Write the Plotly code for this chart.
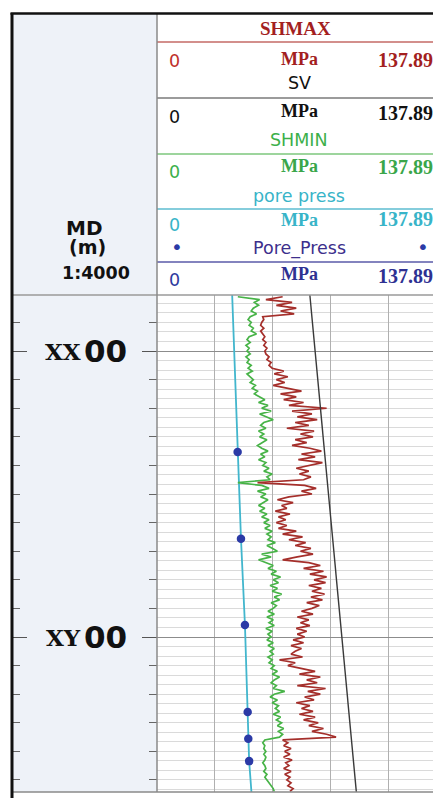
import numpy as np
import plotly.graph_objects as go

# ---------------- DATA ----------------
TRACK_MIN = 0.0
TRACK_MAX = 137.895          # MPa, scale of every curve in the track
DEPTH_TOP = 980.4
DEPTH_BOTTOM = 1154.2

# depth annotations of the MD column
DEPTH_LABEL_VALUES = [1000, 1100]
DEPTH_LABEL_PREFIX = ["XX", "XY"]
DEPTH_LABEL_SUFFIX = ["00", "00"]

# log curves sampled every 1 m from 981 m
LOG_DEPTH_START = 981.0
LOG_DEPTH_STEP = 1.0

SHMIN_VALUES = [
    38.6, 49.0, 46.5, 48.5, 46.0, 45.0, 47.5, 44.5, 43.5, 45.0,
    44.0, 46.0, 45.0, 47.5, 44.0, 43.0, 44.5, 42.5, 44.0, 43.0,
    44.5, 42.5, 44.0, 43.0, 45.0, 43.5, 45.5, 43.0, 44.5, 46.0,
    44.5, 47.0, 45.5, 48.0, 46.5, 49.0, 51.5, 48.5, 53.0, 50.0,
    54.5, 49.0, 52.5, 55.5, 51.0, 49.5, 52.0, 48.5, 51.0, 49.0,
    52.5, 50.5, 48.0, 50.0, 53.0, 49.5, 51.5, 48.5, 52.0, 50.5,
    53.5, 51.0, 55.0, 52.5, 54.0, 38.6, 50.0, 53.5, 48.0, 52.0,
    49.5, 53.0, 50.5, 48.5, 51.5, 49.0, 52.5, 50.0, 53.5, 51.0,
    54.0, 51.5, 55.0, 52.5, 54.5, 53.0, 56.5, 52.5, 55.0, 57.5,
    50.0, 54.5, 48.5, 52.0, 55.5, 53.0, 57.0, 54.5, 59.0, 55.5,
    58.0, 54.0, 57.5, 55.0, 59.5, 56.0, 58.5, 54.5, 57.0, 55.5,
    53.0, 56.0, 52.5, 55.5, 53.5, 56.0, 52.0, 55.0, 53.0, 54.5,
    52.5, 55.5, 53.0, 56.0, 54.0, 55.5, 53.0, 55.0, 53.5, 56.0,
    54.5, 57.5, 55.0, 58.5, 56.0, 54.5, 57.0, 55.5, 61.0, 56.0,
    54.0, 57.5, 55.0, 58.0, 56.5, 58.5, 55.5, 59.0, 57.0, 59.5,
    57.5, 60.5, 58.0, 60.0, 58.5, 51.5, 50.5, 51.5, 51.0, 52.0,
    51.0, 52.0, 51.5, 50.5, 51.5, 52.0, 51.0, 52.5, 51.5, 52.5,
    53.5, 54.5, 55.5, 56.0,
]

SHMAX_VALUES = [
    60.0, 52.0, 64.5, 57.0, 66.5, 59.0, 65.5, 50.5, 51.0, 50.0,
    49.5, 51.0, 49.5, 50.5, 51.5, 50.5, 52.0, 51.0, 52.5, 51.5,
    52.0, 53.5, 52.5, 54.5, 53.5, 55.0, 60.5, 56.0, 62.5, 57.0,
    61.0, 55.5, 63.0, 69.0, 59.0, 66.5, 60.5, 70.0, 63.0, 81.0,
    64.5, 74.0, 67.0, 76.5, 66.0, 72.5, 62.0, 75.0, 68.5, 74.5,
    66.0, 71.5, 64.5, 73.0, 78.5, 69.0, 75.5, 67.5, 79.0, 72.0,
    66.5, 72.5, 68.0, 73.5, 70.0, 48.0, 70.5, 76.0, 69.0, 74.0,
    63.0, 57.5, 65.0, 59.5, 62.0, 56.5, 63.5, 58.0, 61.5, 57.0,
    62.0, 58.0, 66.5, 60.0, 69.5, 63.0, 71.0, 66.0, 73.5, 68.5,
    74.5, 67.0, 60.0, 72.5, 78.0, 70.0, 79.5, 73.0, 81.0, 75.0,
    80.5, 72.5, 78.5, 74.0, 80.0, 73.5, 79.0, 71.5, 77.5, 74.0,
    69.0, 74.5, 67.0, 72.5, 68.5, 73.0, 66.5, 71.5, 67.0, 70.5,
    65.0, 70.0, 64.0, 69.0, 66.0, 64.0, 69.5, 58.5, 66.0, 62.5,
    69.5, 75.5, 68.0, 78.0, 71.5, 76.5, 67.0, 80.5, 72.0, 78.0,
    70.5, 75.0, 66.5, 73.0, 69.0, 74.5, 68.0, 75.5, 70.0, 77.0,
    72.5, 79.5, 74.0, 81.0, 85.5, 60.0, 62.5, 60.5, 64.0, 61.0,
    63.5, 60.5, 64.5, 61.5, 63.0, 60.5, 64.0, 61.0, 63.5, 62.0,
    64.0, 62.5, 65.0, 63.5,
]

SV_DEPTH = [980.4, 1154.2]
SV_VALUES = [73.0, 95.2]

PORE_DEPTH = [980.4, 1035.3, 1065.6, 1095.8, 1126.2, 1143.4, 1154.2]
PORE_VALUES = [35.9, 38.5, 40.1, 42.0, 43.3, 44.0, 45.1]

PP_POINT_DEPTH = [1035.3, 1065.6, 1095.8, 1126.2, 1135.6, 1143.4]
PP_POINT_VALUES = [38.5, 40.1, 42.0, 43.3, 43.6, 44.0]

log_depth = np.arange(LOG_DEPTH_START, LOG_DEPTH_START + LOG_DEPTH_STEP * len(SHMIN_VALUES), LOG_DEPTH_STEP)

# ---------------- STYLE / LAYOUT ----------------
W, H = 433, 798
def px(x):
    return x / W
def py(y):
    return 1 - y / H

TRACK_LEFT, TRACK_RIGHT_FULL = 157, 445.75
TRACK_TOP, TRACK_BOTTOM = 295, 792
COL_LEFT = 12
FRAME_TOP = 13

x_visible_max = TRACK_MAX * (W - TRACK_LEFT) / (TRACK_RIGHT_FULL - TRACK_LEFT)

RED = "#a52f2b"
GREEN = "#47b347"
CYAN = "#42b6cd"
NAVY = "#2b3aa6"

fig = go.Figure()

fig.add_trace(go.Scatter(x=PORE_VALUES, y=PORE_DEPTH, mode="lines",
                         line=dict(color=CYAN, width=1.8), xaxis="x", yaxis="y"))
fig.add_trace(go.Scatter(x=SHMIN_VALUES, y=log_depth, mode="lines",
                         line=dict(color=GREEN, width=1.7), xaxis="x", yaxis="y"))
fig.add_trace(go.Scatter(x=SHMAX_VALUES, y=log_depth, mode="lines",
                         line=dict(color=RED, width=1.7), xaxis="x", yaxis="y"))
fig.add_trace(go.Scatter(x=SV_VALUES, y=SV_DEPTH, mode="lines",
                         line=dict(color="#3a3a3a", width=1.4), xaxis="x", yaxis="y"))
fig.add_trace(go.Scatter(x=PP_POINT_VALUES, y=PP_POINT_DEPTH, mode="markers",
                         marker=dict(color=NAVY, size=8.5), xaxis="x", yaxis="y"))
# invisible carriers so both edges of the MD column get their tick marks
for ya in ("y2", "y3"):
    fig.add_trace(go.Scatter(x=[0.5], y=[DEPTH_LABEL_VALUES[0]], mode="markers",
                             marker=dict(opacity=0), hoverinfo="skip",
                             xaxis="x2", yaxis=ya))

dom_y = [py(TRACK_BOTTOM), py(TRACK_TOP)]
yrange = [DEPTH_BOTTOM, DEPTH_TOP]

tick_style = dict(ticks="inside", ticklen=15, tickcolor="#555", tickwidth=1,
                  tick0=1000, dtick=100, showticklabels=False, showgrid=False,
                  zeroline=False, showline=False, autorange=False,
                  minor=dict(ticks="inside", ticklen=8, dtick=10, tickcolor="#666", tickwidth=1))

fig.update_layout(
    width=W, height=H, margin=dict(l=0, r=0, t=0, b=0),
    paper_bgcolor="white", plot_bgcolor="rgba(0,0,0,0)",
    showlegend=False,
    xaxis=dict(domain=[px(TRACK_LEFT), 1], range=[TRACK_MIN, x_visible_max],
               tick0=0, dtick=TRACK_MAX / 5, showgrid=True, gridcolor="#b0b0b0",
               gridwidth=1, showticklabels=False, zeroline=False, showline=False,
               ticks="", anchor="y"),
    yaxis=dict(domain=dom_y, range=yrange, tick0=1000, dtick=100, showgrid=True,
               gridcolor="#8c8c8c", gridwidth=1,
               minor=dict(dtick=10 / 3, showgrid=True, gridcolor="#dadada", gridwidth=1),
               showticklabels=False, ticks="", zeroline=False, anchor="x"),
    xaxis2=dict(domain=[px(COL_LEFT), px(TRACK_LEFT)], range=[0, 1], visible=False, anchor="y2"),
    yaxis2=dict(domain=dom_y, range=yrange, anchor="x2", side="left", **tick_style),
    yaxis3=dict(domain=dom_y, range=yrange, anchor="x2", side="right",
                overlaying="y2", **tick_style),
)

shapes = []
# depth column background
shapes.append(dict(type="rect", xref="paper", yref="paper", layer="below",
                   x0=px(COL_LEFT), x1=px(TRACK_LEFT), y0=py(TRACK_BOTTOM), y1=py(FRAME_TOP),
                   fillcolor="#eef2f8", line=dict(width=0)))
def hline(y, x0, x1, color, width=1.5):
    shapes.append(dict(type="line", xref="paper", yref="paper", x0=px(x0), x1=px(x1),
                       y0=py(y), y1=py(y), line=dict(color=color, width=width)))
def vline(x, y0, y1, color, width=1.5):
    shapes.append(dict(type="line", xref="paper", yref="paper", x0=px(x), x1=px(x),
                       y0=py(y0), y1=py(y1), line=dict(color=color, width=width)))

# header row separators
hline(42, TRACK_LEFT, W, "#c46a66")
hline(98, TRACK_LEFT, W, "#7a7a7a")
hline(154, TRACK_LEFT, W, "#7cc77c")
hline(209, TRACK_LEFT, W, "#5cbdd0")
hline(262, TRACK_LEFT, W, "#5a5aa8")
hline(TRACK_TOP, COL_LEFT, W, "#9a9a9a")
hline(TRACK_BOTTOM, COL_LEFT, W, "#8a8a8a")
vline(TRACK_LEFT, FRAME_TOP, TRACK_BOTTOM, "#8a8a8a")
# frame
hline(FRAME_TOP + 0.5, COL_LEFT - 1.5, W, "#111", 2.5)
vline(COL_LEFT, FRAME_TOP, H, "#111", 3)
fig.update_layout(shapes=shapes)

ann = []
def text(x, y, s, size, color, family, xanchor="center", bold=False):
    ann.append(dict(x=px(x), y=py(y), xref="paper", yref="paper", text=s, showarrow=False,
                    xanchor=xanchor, yanchor="middle",
                    font=dict(size=size, color=color, family=family,
                              weight="bold" if bold else "normal")))

SERIF = "Liberation Serif"
SANS = "DejaVu Sans"
CX = 299

rows = [
    # title, title_y, title_color, title_font, zero_y, zero_color, mpa_y, num_y, num_color
    ("SHMAX", 29, "#a31f1f", "serif", 61, "#c0302b", 59, 60, "#a31f1f"),
    ("SV", 83, "#111111", "sans", 117, "#111111", 111, 113, "#111111"),
    ("SHMIN", 140, "#3cb04a", "sans", 172, "#3cb04a", 166, 167, "#3aa64a"),
    ("pore press", 196, "#38b4c8", "sans", 225, "#38b4c8", 220, 219, "#38b4c8"),
    ("Pore_Press", 248, "#3d2f8c", "sans", 280, "#2f3a9e", 274, 276, "#2e3192"),
]
for title, ty, tc, tf, zy, zc, my, ny, nc in rows:
    if tf == "serif":
        text(CX - 4, ty, title, 19, tc, SERIF, bold=True)
    else:
        text(CX, ty, title, 17.5, tc, SANS)
    text(167, zy, "0", 17.5, zc, SANS, xanchor="left")
    text(CX, my, "MPa", 18, nc, SERIF, bold=True)
    text(376, ny, "137.895", 20, nc, SERIF, xanchor="left", bold=True)

text(177, 247, "•", 20, NAVY, SANS)
text(423, 247, "•", 20, NAVY, SANS)

# MD column header
text(84, 228, "MD", 20, "#111", SANS, bold=True)
text(87, 247, "(m)", 19, "#111", SANS, bold=True)
text(96, 272.5, "1:4000", 17.5, "#111", SANS, bold=True)

fig.update_layout(annotations=ann)

for d, pre, suf in zip(DEPTH_LABEL_VALUES, DEPTH_LABEL_PREFIX, DEPTH_LABEL_SUFFIX):
    fig.add_annotation(x=px(83), y=d, xref="paper", yref="y2", text=pre, showarrow=False,
                       xanchor="right", yanchor="middle",
                       font=dict(size=23, color="#111", family="DejaVu Serif", weight="bold"))
    fig.add_annotation(x=px(82), y=d, xref="paper", yref="y2", text=suf, showarrow=False,
                       xanchor="left", yanchor="middle",
                       font=dict(size=31, color="#111", family="DejaVu Sans", weight="bold"))

fig.write_html("out.html")
